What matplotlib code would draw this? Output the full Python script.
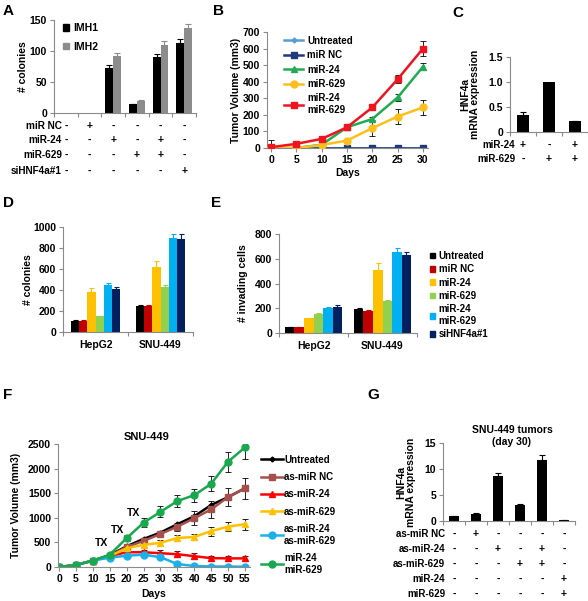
import matplotlib.pyplot as plt
from matplotlib.patches import Patch
from matplotlib.lines import Line2D
import numpy as np

W, H = 588, 601
plt.rcParams['font.family'] = ['Liberation Sans', 'DejaVu Sans']
plt.rcParams['font.weight'] = 'bold'
plt.rcParams['axes.labelweight'] = 'bold'
plt.rcParams['font.size'] = 7

# ---- panel A: colonies, IMH1 / IMH2
a_imh1 = [0, 0, 73, 14, 90, 113]
a_imh1_err = [0, 0, 4, 1, 5, 6]
a_imh2 = [0, 0, 92, 20, 110, 137]
a_imh2_err = [0, 0, 5, 1, 6, 7]
a_rows = ['miR NC', 'miR-24', 'miR-629', 'siHNF4a#1']
a_signs = [['-', '+', '-', '-', '-', '-'],
           ['-', '-', '+', '-', '+', '-'],
           ['-', '-', '-', '+', '+', '-'],
           ['-', '-', '-', '-', '-', '+']]

# ---- panel B: tumor volume
b_days = [0, 5, 10, 15, 20, 25, 30]
b_untreated = [0, 0, 0, 0, 0, 0, 0]
b_untreated_err = [50, 0, 0, 0, 0, 0, 0]
b_mirnc = [0, 0, 0, 0, 0, 0, 0]
b_mir24 = [0, 0, 20, 125, 175, 305, 490]
b_mir24_err = [0, 0, 0, 0, 15, 20, 20]
b_mir629 = [0, 0, 18, 45, 120, 190, 245]
b_mir629_err = [0, 0, 0, 10, 50, 45, 45]
b_combo = [5, 25, 55, 125, 245, 415, 600]
b_combo_err = [0, 0, 0, 0, 15, 25, 45]

# ---- panel C
c_vals = [0.35, 1.0, 0.22]
c_err = [0.05, 0.0, 0.01]
c_rows = ['miR-24', 'miR-629']
c_signs = [['+', '-', '+'], ['-', '+', '+']]

# ---- panels D / E
de_groups = ['HepG2', 'SNU-449']
de_labels = ['Untreated', 'miR NC', 'miR-24', 'miR-629', 'miR-24\nmiR-629', 'siHNF4a#1']
de_colors = ['#000000', '#c00000', '#ffc000', '#92d050', '#00b0f0', '#002060']
d_vals = [[105, 245], [105, 245], [385, 620], [150, 425], [450, 895], [410, 885]]
d_err = [[5, 8], [5, 10], [35, 55], [5, 25], [20, 40], [20, 45]]
e_vals = [[45, 195], [45, 179], [120, 512], [155, 259], [203, 651], [213, 627]]
e_err = [[2, 3], [2, 8], [5, 53], [4, 8], [4, 34], [11, 26]]

# ---- panel F
f_days = [0, 5, 10, 15, 20, 25, 30, 35, 40, 45, 50, 55]
f_untreated = [0, 40, 130, 240, 420, 570, 700, 870, 1030, 1260, 1420, 1600]
f_nc = [0, 40, 130, 230, 405, 530, 670, 820, 990, 1170, 1420, 1600]
f_nc_err = [0, 0, 0, 20, 30, 40, 50, 80, 140, 170, 180, 210]
f_as24 = [0, 40, 130, 220, 300, 300, 280, 260, 220, 180, 175, 175]
f_as24_err = [0, 0, 0, 20, 40, 50, 60, 60, 60, 50, 50, 50]
f_as629 = [0, 40, 130, 220, 380, 450, 490, 590, 610, 730, 820, 870]
f_as629_err = [0, 0, 0, 20, 40, 50, 60, 60, 60, 90, 90, 110]
f_ascombo = [0, 40, 130, 190, 230, 250, 200, 60, 20, 10, 10, 5]
f_ascombo_err = [0, 0, 0, 20, 30, 40, 40, 30, 20, 15, 15, 10]
f_mir = [0, 40, 130, 250, 585, 900, 1120, 1340, 1460, 1690, 2140, 2430]
f_mir_err = [0, 0, 0, 20, 60, 90, 110, 130, 130, 150, 200, 240]
f_tx = [(12.7, 480), (17.2, 760), (22.0, 1100)]

# ---- panel G
g_vals = [1.0, 1.3, 8.6, 3.0, 11.7, 0.1]
g_err = [0.05, 0.15, 0.7, 0.3, 1.0, 0.02]
g_rows = ['as-miR NC', 'as-miR-24', 'as-miR-629', 'miR-24', 'miR-629']
g_signs = [['-', '+', '-', '-', '-', '-'],
           ['-', '-', '+', '-', '+', '-'],
           ['-', '-', '-', '+', '+', '-'],
           ['-', '-', '-', '-', '-', '+'],
           ['-', '-', '-', '-', '-', '+']]

fig = plt.figure(figsize=(W / 100, H / 100), dpi=100)
GRAY = '#8a8a8a'


def add_ax(x0, y0, x1, y1):
    ax = fig.add_axes([x0 / W, 1 - y1 / H, (x1 - x0) / W, (y1 - y0) / H])
    ax.px = (x0, y0, x1, y1)
    for s in ('top', 'right'):
        ax.spines[s].set_visible(False)
    for s in ('left', 'bottom'):
        ax.spines[s].set_color(GRAY)
        ax.spines[s].set_linewidth(0.8)
    ax.tick_params(colors=GRAY, labelcolor='black', length=3, width=0.8,
                   labelsize=7.5, pad=2)
    return ax


def fx(ax, xpx):
    x0, y0, x1, y1 = ax.px
    return (xpx - x0) / (x1 - x0)


def fy(ax, ypx):
    x0, y0, x1, y1 = ax.px
    return (y1 - ypx) / (y1 - y0)


def ylabel(ax, text, xpx):
    ax.set_ylabel(text, fontsize=7.5, linespacing=1.0)
    ax.yaxis.set_label_coords(fx(ax, xpx), 0.5)
    ax.yaxis.label.set_va('center')


def xlabel(ax, text, ypx):
    ax.set_xlabel(text, fontsize=7.5)
    ax.xaxis.set_label_coords(0.5, fy(ax, ypx))
    ax.xaxis.label.set_va('center')


def sign_table(ax, labels, signs, ys, label_x, size=7):
    for lab, row, y in zip(labels, signs, ys):
        ax.text(fx(ax, label_x), fy(ax, y), lab, transform=ax.transAxes,
                ha='right', va='center', fontsize=size)
        for i, s in enumerate(row):
            ax.text(i, fy(ax, y), s, transform=ax.get_xaxis_transform(),
                    ha='center', va='center', fontsize=7.5)


def cat_axis(ax, n):
    ax.set_xlim(-0.5, n - 0.5)
    ax.set_xticks(np.arange(n + 1) - 0.5)
    ax.set_xticklabels([])


def err_bars(ax, x, y, e, color, up_only=True, cap=2, lw=0.8):
    x, y, e = np.asarray(x, float), np.asarray(y, float), np.asarray(e, float)
    m = e > 0
    if up_only:
        yerr = [np.zeros(m.sum()), e[m]]
    else:
        yerr = e[m]
    ax.errorbar(x[m], y[m], yerr=yerr, fmt='none', ecolor=color,
                capsize=cap, elinewidth=lw, capthick=lw, zorder=1.5)


# ---------------- A
ax = add_ax(54, 20, 196, 113)
x = np.arange(6)
ax.bar(x - 0.165, a_imh1, 0.33, color='black')
ax.bar(x + 0.165, a_imh2, 0.33, color='#8c8c8c')
err_bars(ax, x - 0.165, a_imh1, a_imh1_err, 'black')
err_bars(ax, x + 0.165, a_imh2, a_imh2_err, '#8c8c8c')
cat_axis(ax, 6)
ax.set_ylim(0, 150)
ax.set_yticks([0, 50, 100, 150])
ylabel(ax, '# colonies', 23)
ax.legend([Patch(color='black'), Patch(color='#8c8c8c')], ['IMH1', 'IMH2'],
          loc='upper left', bbox_to_anchor=(58 / W, 1 - 18 / H),
          bbox_transform=fig.transFigure, frameon=False, fontsize=7.5,
          handlelength=0.6, handleheight=0.6, handletextpad=0.4,
          labelspacing=0.8, borderpad=0)
sign_table(ax, a_rows, a_signs, [126, 140, 155, 171], 62, size=7.2)

# ---------------- B
ax = add_ax(267, 32, 428, 148)
b_series = [
    ('Untreated', b_untreated, b_untreated_err, '#5b9bd5', 'D', 2.5, 2),
    ('miR NC', b_mirnc, [0] * 7, '#1f3a7a', 's', 5, 2.2),
    ('miR-24', b_mir24, b_mir24_err, '#22aa55', '^', 5, 2.4),
    ('miR-629', b_mir629, b_mir629_err, '#fdbf1c', 'o', 5, 2.6),
    ('miR-24\nmiR-629', b_combo, b_combo_err, '#f0141e', 's', 5, 2.8),
]
handles = []
for name, vals, errs, col, mk, ms, z in b_series:
    err_bars(ax, b_days, vals, errs, 'black', up_only=(name == 'Untreated'), lw=0.6)
    ax.plot(b_days, vals, color=col, marker=mk, ms=ms, lw=1.8, zorder=z)
    handles.append(Line2D([], [], color=col, marker=mk, ms=ms, lw=1.8))
ax.set_xlim(-0.8, 31)
ax.set_ylim(0, 700)
ax.set_xticks(b_days)
ax.set_yticks(range(0, 701, 100))
ylabel(ax, 'Tumor Volume (mm3)', 236)
xlabel(ax, 'Days', 173)
ax.legend(handles, [s[0] for s in b_series], loc='upper left',
          bbox_to_anchor=(279 / W, 1 - 31 / H),
          bbox_transform=fig.transFigure, frameon=False, fontsize=7,
          handlelength=2.0, handletextpad=0.4, labelspacing=0.45, borderpad=0)

# ---------------- C
ax = add_ax(510, 57, 588, 132)
x = np.arange(3)
ax.bar(x, c_vals, 0.46, color='black')
err_bars(ax, x, c_vals, c_err, 'black')
cat_axis(ax, 3)
ax.set_ylim(0, 1.5)
ax.set_yticks([0, 0.5, 1.0, 1.5])
ax.set_yticklabels(['0', '0.5', '1.0', '1.5'])
ylabel(ax, 'HNF4a\nmRNA expression', 470)
sign_table(ax, c_rows, c_signs, [145, 159], 515)


# ---------------- D / E
def grouped(ax, vals, errs, w):
    n = len(vals)
    for i in range(n):
        xs = np.arange(2) + (i - (n - 1) / 2) * w
        ax.bar(xs, vals[i], w, color=de_colors[i])
        err_bars(ax, xs, vals[i], errs[i], de_colors[i], cap=1.8)
    cat_axis(ax, 2)
    ax.set_xticks([0, 1], de_groups, minor=True)
    ax.tick_params(axis='x', which='minor', length=0, labelsize=7.5, pad=6)


ax = add_ax(63, 227, 193, 332)
grouped(ax, d_vals, d_err, 0.128)
ax.set_ylim(0, 1000)
ax.set_yticks(range(0, 1001, 200))
ylabel(ax, '# colonies', 28)

ax = add_ax(279, 234, 417, 333)
grouped(ax, e_vals, e_err, 0.138)
ax.set_ylim(0, 800)
ax.set_yticks(range(0, 801, 200))
ylabel(ax, '# invading cells', 243)
fig.legend([Patch(color=c) for c in de_colors], de_labels, loc='upper left',
           bbox_to_anchor=(425 / W, 1 - 246 / H), frameon=False, fontsize=7,
           handlelength=0.5, handleheight=0.5, handletextpad=0.4,
           labelspacing=0.35, borderpad=0)

# ---------------- F
ax = add_ax(58, 444, 250, 567)
f_series = [
    ('Untreated', f_untreated, [0] * 12, 'black', 'D', 2.5),
    ('as-miR NC', f_nc, f_nc_err, '#a5504c', 's', 5),
    ('as-miR-24', f_as24, f_as24_err, '#ff0000', '^', 4),
    ('as-miR-629', f_as629, f_as629_err, '#ffc000', '^', 4),
    ('as-miR-24\nas-miR-629', f_ascombo, f_ascombo_err, '#1cb0ea', 'o', 5),
    ('miR-24\nmiR-629', f_mir, f_mir_err, '#1aa84f', 'o', 5),
]
handles = []
for name, vals, errs, col, mk, ms in f_series:
    err_bars(ax, f_days, vals, errs, 'black', up_only=False, lw=0.6)
    ax.plot(f_days, vals, color=col, marker=mk, ms=ms, lw=1.8)
    handles.append(Line2D([], [], color=col, marker=mk, ms=ms, lw=1.8))
for d, v in f_tx:
    ax.text(d, v, 'TX', ha='center', va='center', fontsize=7.5)
ax.set_xlim(-0.3, 56.5)
ax.set_ylim(0, 2500)
ax.set_xticks(f_days)
ax.set_yticks(range(0, 2501, 500))
ax.text(fx(ax, 147), fy(ax, 437), 'SNU-449', transform=ax.transAxes,
        ha='center', va='center', fontsize=8)
ylabel(ax, 'Tumor Volume (mm3)', 16)
xlabel(ax, 'Days', 594)
ax.legend(handles, [s[0] for s in f_series], loc='upper left',
          bbox_to_anchor=(256 / W, 1 - 450 / H),
          bbox_transform=fig.transFigure, frameon=False, fontsize=7,
          handlelength=2.3, handletextpad=0.1, labelspacing=0.75, borderpad=0)

# ---------------- G
ax = add_ax(443, 443, 575, 521)
x = np.arange(6)
ax.bar(x, g_vals, 0.46, color='black')
err_bars(ax, x, g_vals, g_err, 'black')
cat_axis(ax, 6)
ax.set_ylim(0, 15)
ax.set_yticks([0, 5, 10, 15])
ax.text(fx(ax, 512), fy(ax, 436), 'SNU-449 tumors\n(day 30)',
        transform=ax.transAxes, ha='center', va='center', fontsize=7.5,
        linespacing=1.15)
ylabel(ax, 'HNF4a\nmRNA expression', 406)
sign_table(ax, g_rows, g_signs, [534, 549, 564, 579, 594], 445)

# ---------------- panel letters
for letter, (px, py) in {'A': (8, 11), 'B': (218, 11), 'C': (458, 13),
                         'D': (8, 203), 'E': (216, 203), 'F': (8, 395),
                         'G': (373, 395)}.items():
    fig.text(px / W, 1 - py / H, letter, fontsize=11, fontweight='bold',
             ha='center', va='center')

fig.savefig('out.png', dpi=100)
